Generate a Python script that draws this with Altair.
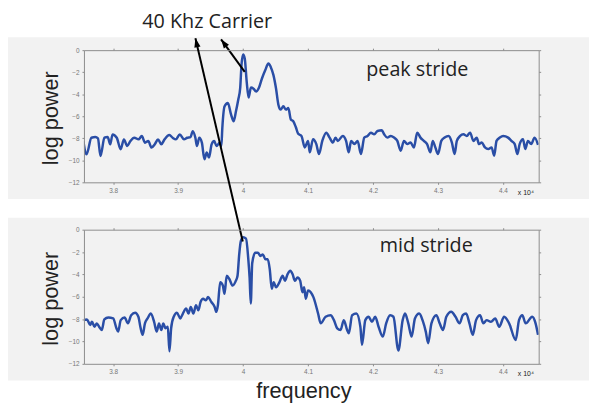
import altair as alt
import pandas as pd

# ---------------- data (frequency in units of 10^4 Hz, log power) ----------------
peak_freq = [3.754, 3.759, 3.7665, 3.7725, 3.7765, 3.7805, 3.7865, 3.7915, 3.7955, 3.799,
             3.8055, 3.8115, 3.8165, 3.8215, 3.8265, 3.8325, 3.839, 3.844, 3.849, 3.854,
             3.859, 3.864, 3.869, 3.874, 3.879, 3.8865, 3.8915, 3.8965, 3.9025, 3.909,
             3.914, 3.919, 3.9225, 3.9265, 3.929, 3.9325, 3.9365, 3.9405, 3.944, 3.9475,
             3.9515, 3.9555, 3.959, 3.964, 3.9665, 3.968, 3.9715, 3.9765, 3.9815, 3.9855,
             3.989, 3.9925, 3.9955, 3.9975, 4.0, 4.0025, 4.0055, 4.0085, 4.012, 4.016,
             4.020, 4.024, 4.029, 4.034, 4.039, 4.0425, 4.0467, 4.0506, 4.0543, 4.0578,
             4.0619, 4.0659, 4.0696, 4.0735, 4.0772, 4.0812, 4.0848, 4.0898, 4.0949, 4.1,
             4.1026, 4.1076, 4.1127, 4.1168, 4.1219, 4.128, 4.1331, 4.1382, 4.1422, 4.1458,
             4.1534, 4.1585, 4.1626, 4.1662, 4.1713, 4.1763, 4.1814, 4.1865, 4.1916, 4.1967,
             4.2018, 4.2069, 4.2135, 4.2171, 4.2221, 4.2272, 4.2323, 4.2374, 4.2425, 4.2476,
             4.2527, 4.2578, 4.2629, 4.268, 4.273, 4.2781, 4.2832, 4.2883, 4.2919, 4.2959,
             4.3, 4.3051, 4.3102, 4.3163, 4.3214, 4.3255, 4.329, 4.3341, 4.3392, 4.3443,
             4.3494, 4.3545, 4.3596, 4.3631, 4.3672, 4.3723, 4.3774, 4.3825, 4.3865, 4.3901,
             4.3952, 4.4003, 4.4079, 4.413, 4.4181, 4.4222, 4.4257, 4.4308, 4.4344, 4.4384,
             4.4435, 4.4486, 4.454]
peak_power = [-8.25, -9.45, -7.95, -7.89, -8.01, -9.6, -7.95, -7.89, -8.55, -7.65,
              -7.95, -9.0, -8.1, -8.7, -8.25, -7.95, -8.1, -7.8, -8.4, -8.25,
              -8.85, -8.55, -8.1, -8.55, -8.1, -7.71, -7.95, -8.1, -7.65, -8.1,
              -7.95, -7.89, -7.35, -7.95, -8.7, -7.95, -8.4, -9.9, -9.3, -9.75,
              -8.55, -8.25, -8.7, -8.4, -8.7, -7.05, -5.1, -4.8, -5.85, -6.45,
              -5.55, -4.5, -3.45, -1.35, -0.39, -0.75, -2.85, -4.3, -3.4, -3.5,
              -3.76, -3.46, -2.57, -1.82, -1.22, -1.52, -2.27, -3.46, -4.95, -5.4,
              -5.1, -5.4, -5.25, -6.3, -6.45, -7.0, -7.6, -7.79, -8.83, -8.24,
              -9.28, -8.09, -8.53, -9.43, -8.24, -7.49, -7.94, -8.39, -7.94, -8.24,
              -7.79, -8.24, -9.28, -8.24, -8.53, -8.24, -9.43, -7.94, -7.79, -7.49,
              -7.64, -7.34, -7.28, -7.64, -7.94, -7.79, -7.94, -8.24, -9.13, -8.24,
              -8.53, -8.39, -8.83, -7.49, -7.94, -8.24, -8.53, -9.28, -8.24, -8.83,
              -9.43, -8.24, -7.94, -7.79, -8.39, -9.43, -8.24, -7.79, -7.64, -7.79,
              -7.49, -8.24, -7.94, -8.53, -8.39, -8.83, -8.98, -8.83, -9.58, -8.24,
              -7.94, -7.79, -7.94, -8.24, -8.53, -9.43, -8.53, -8.09, -8.98, -8.24,
              -8.53, -7.94, -8.6]

mid_freq = [3.7531, 3.7597, 3.7647, 3.7673, 3.7713, 3.7748, 3.7783, 3.7824, 3.7864, 3.7924,
            3.8, 3.805, 3.8076, 3.8116, 3.8176, 3.8227, 3.8277, 3.8338, 3.8388, 3.8418,
            3.8453, 3.8489, 3.8529, 3.8579, 3.863, 3.867, 3.8705, 3.8741, 3.8771, 3.8806,
            3.8841, 3.8866, 3.8892, 3.8932, 3.8982, 3.9033, 3.9073, 3.9123, 3.9159, 3.9194,
            3.9234, 3.9275, 3.931, 3.9345, 3.9385, 3.9426, 3.9461, 3.9511, 3.9562, 3.9587,
            3.9612, 3.9647, 3.9688, 3.9713, 3.9748, 3.9788, 3.9839, 3.9889, 3.9914, 3.994,
            3.9965, 4.0, 4.0045, 4.0078, 4.01, 4.0118, 4.014, 4.0186, 4.0227, 4.0268,
            4.0303, 4.0344, 4.0379, 4.041, 4.0441, 4.0471, 4.0507, 4.0558, 4.0608, 4.0644,
            4.0685, 4.0726, 4.0761, 4.0797, 4.0838, 4.0878, 4.0914, 4.0939, 4.0965, 4.1,
            4.1041, 4.1082, 4.1154, 4.1194, 4.127, 4.1347, 4.1398, 4.1449, 4.15, 4.155,
            4.1601, 4.1627, 4.1678, 4.1744, 4.1805, 4.183, 4.1881, 4.1932, 4.1983, 4.2034,
            4.2085, 4.2151, 4.2202, 4.2263, 4.2314, 4.239, 4.2456, 4.2492, 4.2543, 4.2594,
            4.2645, 4.2711, 4.2762, 4.2812, 4.2848, 4.2899, 4.2975, 4.3026, 4.3077, 4.3128,
            4.3204, 4.327, 4.3332, 4.3382, 4.3433, 4.3484, 4.3535, 4.3586, 4.3647, 4.3698,
            4.3749, 4.3815, 4.3881, 4.3942, 4.4018, 4.4095, 4.4196, 4.4247, 4.4298, 4.4349,
            4.445, 4.4502, 4.454]
mid_power = [-8.09, -8.03, -8.53, -8.24, -8.68, -8.38, -8.68, -8.97, -8.03, -7.85,
             -7.94, -8.82, -9.12, -8.09, -7.85, -8.38, -7.65, -7.44, -7.79, -8.68,
             -9.41, -8.38, -7.94, -7.5, -8.24, -9.12, -8.38, -8.97, -8.38, -8.82,
             -8.68, -10.88, -8.82, -7.79, -7.44, -7.94, -7.5, -7.06, -7.5, -6.91,
             -7.5, -6.76, -7.21, -6.47, -6.18, -6.32, -6.03, -6.47, -6.91, -7.35,
             -6.76, -4.71, -5.0, -5.74, -4.12, -4.41, -5.0, -4.56, -4.12, -2.21,
             -1.03, -0.68, -0.8, -2.5, -4.3, -6.6, -3.0, -2.06, -2.06, -2.35,
             -2.21, -2.65, -2.65, -3.53, -5.29, -4.71, -5.15, -4.71, -4.12, -4.56,
             -3.97, -3.68, -3.97, -4.56, -4.27, -4.56, -5.59, -5.15, -6.18, -5.44,
             -5.59, -6.03, -7.5, -8.38, -7.79, -7.65, -8.09, -8.82, -8.97, -8.09,
             -8.97, -9.27, -7.65, -7.5, -8.68, -10.3, -8.09, -7.79, -8.24, -7.79,
             -8.68, -9.56, -8.38, -7.65, -7.79, -10.8, -8.09, -7.5, -8.38, -9.56,
             -7.94, -7.5, -8.09, -9.12, -10.15, -8.38, -7.65, -8.38, -8.97, -7.79,
             -7.35, -7.79, -8.38, -7.65, -7.5, -8.38, -9.41, -8.09, -7.65, -8.38,
             -8.09, -8.24, -7.94, -8.68, -7.79, -8.38, -9.86, -8.09, -7.65, -8.38,
             -7.79, -8.38, -9.41]

x_ticks = [3.8, 3.9, 4.0, 4.1, 4.2, 4.3, 4.4]
y_ticks = [-12, -10, -8, -6, -4, -2, 0]
carrier_label = "40 Khz Carrier"
panel_labels = ["peak stride", "mid stride"]
y_title = "log power"
x_title = "frequency"
exponent_label = "x 10\u2074"

# ---------------- styling ----------------
W = 461
GRAY = "#f2f2f2"
BLUE = "#2a4ea6"
AXC = "#8c8c8c"
one = pd.DataFrame({"k": [0]})
xscale = alt.Scale(domain=[3.755, 4.455], nice=False, zero=False)
yscale = alt.Scale(domain=[-12, 0], nice=False, zero=False)


def ax(orient, values, labels=True, fmt="~g"):
    return alt.Axis(orient=orient, values=values, labels=labels, format=fmt, title=None,
                    grid=False, zindex=1, domainColor=AXC, domainWidth=1, tickColor=AXC,
                    tickSize=2, labelFontSize=6.5, labelColor="#777", labelPadding=3,
                    labelFont="Liberation Sans")


def txt(text, x, y, size=20, font="Open Sans", angle=0):
    return alt.Chart(one).mark_text(text=text, font=font, fontSize=size, color="#222",
                                    align="center", baseline="middle", angle=angle).encode(
        x=alt.value(x), y=alt.value(y))


def arrow(x1, y1, x2, y2, ang):
    r = alt.Chart(one).mark_rule(color="black", strokeWidth=2).encode(
        x=alt.value(x1), y=alt.value(y1), x2=alt.value(x2), y2=alt.value(y2))
    head = alt.Chart(one).mark_point(shape="M0,0L-0.45,1.3L0.45,1.3Z", filled=True,
                                     color="black", opacity=1, size=200, angle=ang,
                                     strokeWidth=0).encode(x=alt.value(x2), y=alt.value(y2))
    return [r, head]


def panel(freq, power, h, gray_top, gray_bottom, extras, canvas=None):
    df = pd.DataFrame({"freq": freq, "power": power})
    bg = alt.Chart(one).mark_rect(color=GRAY).encode(
        x=alt.value(-77), x2=alt.value(512), y=alt.value(gray_top), y2=alt.value(gray_bottom))
    line = alt.Chart(df).mark_line(color=BLUE, strokeWidth=2.5, interpolate="monotone",
                                   clip=True).encode(
        x=alt.X("freq:Q", scale=xscale, axis=ax("bottom", x_ticks)),
        y=alt.Y("power:Q", scale=yscale, axis=ax("left", y_ticks, fmt="d")))
    box = alt.Chart(df).mark_line(opacity=0).encode(
        x=alt.X("freq:Q", scale=xscale, axis=ax("top", x_ticks, labels=False)),
        y=alt.Y("power:Q", scale=yscale, axis=ax("right", y_ticks, labels=False)))
    layers = ([canvas] if canvas is not None else []) + [bg, line, box] + extras
    return alt.layer(*layers).resolve_axis(x="independent", y="independent").properties(
        width=W, height=h)


canvas = alt.Chart(one).mark_rect(color="white").encode(
    x=alt.value(-77), x2=alt.value(512), y=alt.value(-40), y2=alt.value(350))

top_extras = [
    txt(panel_labels[0], 338, 20),
    txt(y_title, -33, 69, size=22, font="Liberation Sans", angle=270),
    txt(exponent_label, 448, 145, size=7, font="Liberation Sans"),
    txt(carrier_label, 125, -28),
] + arrow(163, 22, 139, -11, 324)

bottom_extras = [
    txt(panel_labels[1], 347, 17),
    txt(y_title, -33, 70, size=22, font="Liberation Sans", angle=270),
    txt(exponent_label, 448, 146, size=7, font="Liberation Sans"),
    txt(x_title, 223, 164, size=22, font="Liberation Sans"),
] + arrow(161, 12, 113, -194, 347)

top = panel(peak_freq, peak_power, 134, -13, 151, top_extras, canvas=canvas)
bottom = panel(mid_freq, mid_power, 136, -12, 153, bottom_extras)

chart = alt.vconcat(top, bottom, spacing=48, bounds="flush").properties(
    padding=0).configure_view(stroke=None)

chart.save("out.html", embed_options={"renderer": "svg", "actions": False})
